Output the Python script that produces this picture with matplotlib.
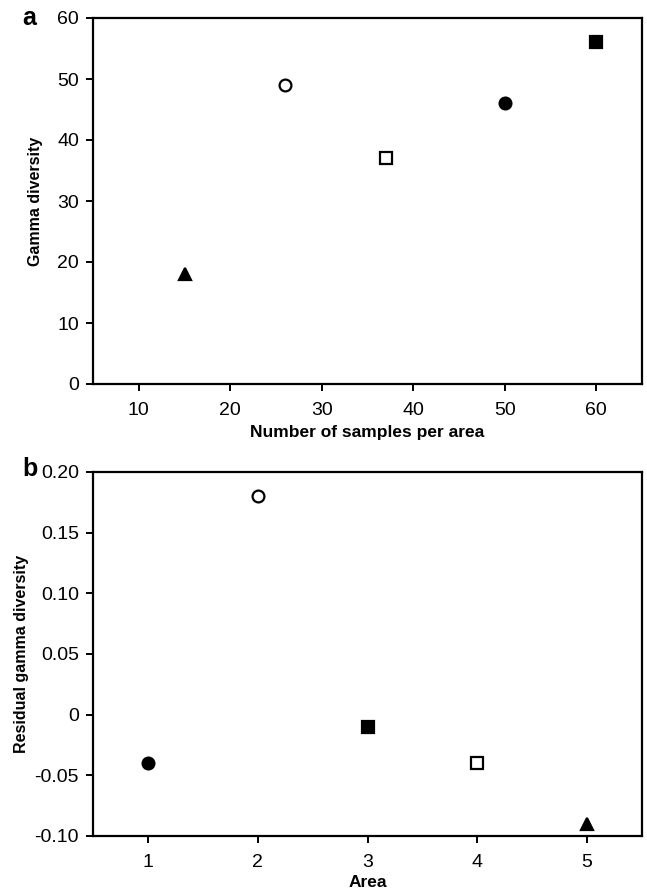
import matplotlib
matplotlib.use("Agg")
import matplotlib.pyplot as plt
from matplotlib.ticker import FuncFormatter

plt.rcParams['font.family'] = ['Liberation Sans', 'DejaVu Sans']

# panel a: gamma diversity vs number of samples per area
samples = [15, 26, 37, 50, 60]
gamma = [18, 49, 37, 46, 56]
# panel b: residual gamma diversity per area
areas = [1, 2, 3, 4, 5]
residual = [-0.04, 0.18, -0.01, -0.04, -0.09]

# marker style per point (a: by sample count, b: by area)
markers_a = ['^', 'o', 's', 'o', 's']
filled_a = [True, False, False, True, True]
markers_b = ['o', 'o', 's', 's', '^']
filled_b = [True, False, True, False, True]

W, H = 647, 892
fig = plt.figure(figsize=(W / 100, H / 100), dpi=100)

def pos(l, t, r, b):
    return [l / W, 1 - b / H, (r - l) / W, (b - t) / H]

ax1 = fig.add_axes(pos(93, 18, 642, 384))
ax2 = fig.add_axes(pos(93, 472, 642, 836))

def draw(ax, xs, ys, mks, fills):
    for x, y, m, f in zip(xs, ys, mks, fills):
        ms = 9 if m == '^' else 8.5
        ax.plot(x, y, marker=m, linestyle='none', markersize=ms,
                markerfacecolor='black' if f else 'white',
                markeredgecolor='black', markeredgewidth=1.6, clip_on=False)

draw(ax1, samples, gamma, markers_a, filled_a)
draw(ax2, areas, residual, markers_b, filled_b)

ax1.set_xlim(5, 65)
ax1.set_ylim(0, 60)
ax1.set_xticks([10, 20, 30, 40, 50, 60])
ax1.set_yticks([0, 10, 20, 30, 40, 50, 60])
ax1.set_xlabel("Number of samples per area", fontsize=12.5, fontweight='bold', labelpad=4)
ax1.set_ylabel("Gamma diversity", fontsize=11.5, fontweight='bold', labelpad=10)

ax2.set_xlim(0.5, 5.5)
ax2.set_ylim(-0.10, 0.20)
ax2.set_xticks(areas)
ax2.set_yticks([-0.10, -0.05, 0, 0.05, 0.10, 0.15, 0.20])
ax2.yaxis.set_major_formatter(FuncFormatter(
    lambda v, p: "0" if abs(v) < 1e-9 else ("%.2f" % v).replace("\u2212", "-")))
ax2.set_xlabel("Area", fontsize=12.5, fontweight='bold', labelpad=3)
ax2.set_ylabel("Residual gamma diversity", fontsize=11.5, fontweight='bold', labelpad=4)

for ax in (ax1, ax2):
    for s in ax.spines.values():
        s.set_linewidth(1.6)
    ax.tick_params(direction='out', length=5, width=1.4, labelsize=14, pad=5)
    ax.tick_params(axis='x', pad=8)

fig.text(22 / W, 1 - 18 / H, "a", fontsize=18, fontweight='bold', ha='left', va='center')
fig.text(22 / W, 1 - 469 / H, "b", fontsize=18, fontweight='bold', ha='left', va='center')

fig.savefig("out.png", dpi=100)
